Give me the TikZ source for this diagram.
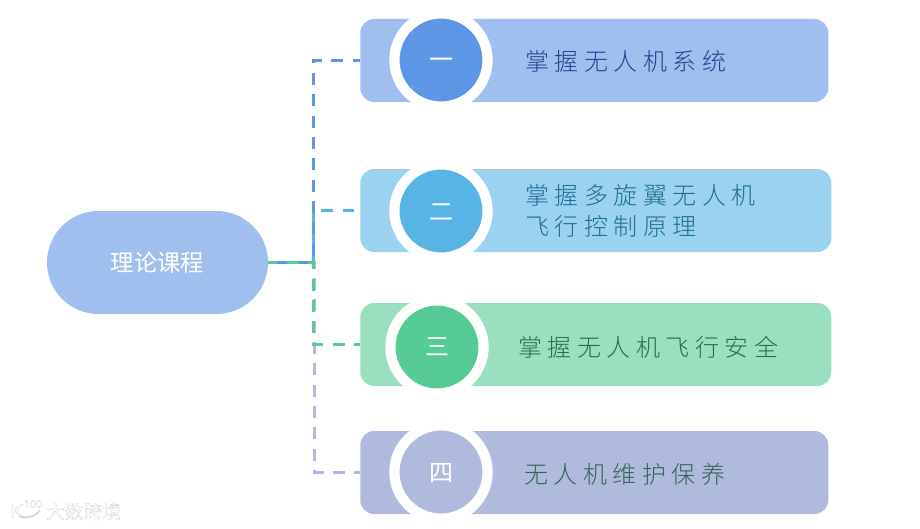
\documentclass[tikz,border=0pt]{standalone}
\usepackage{fontspec}
\setmainfont{Noto Sans CJK SC}
\newfontfamily\cjkwide[LetterSpace=23]{Noto Sans CJK SC Light}
\newfontfamily\cjkmark[FakeBold=0.5]{Noto Sans CJK SC}
\newfontfamily\latinmark[FakeBold=0.5]{Liberation Sans}
\usetikzlibrary{
calc,
positioning
}

\definecolor{boxblue}{HTML}{A0BFEE}
\definecolor{dotblue}{HTML}{5E96E6}
\definecolor{boxsky}{HTML}{9BD2EF}
\definecolor{dotsky}{HTML}{58B4E5}
\definecolor{boxgreen}{HTML}{9ADFBF}
\definecolor{dotgreen}{HTML}{56CB96}
\definecolor{boxgray}{HTML}{B0BADC}
\definecolor{textblue}{HTML}{1F4590}
\definecolor{textsky}{HTML}{1F6E94}
\definecolor{textgreen}{HTML}{25704B}
\definecolor{textgray}{HTML}{336558}
\definecolor{markshade}{HTML}{D0D0D0}

\tikzset{
topicbox/.style={rounded corners=10.5pt,minimum height=62.25pt,anchor=west,inner sep=0pt},
topicdot/.style={circle,draw=white,line width=7.65pt,minimum size=69.9pt,inner sep=0pt},
topicnum/.style={text=white,inner sep=0pt,font=\fontsize{18}{18}\selectfont},
topictext/.style={anchor=west,inner sep=0pt,align=left,
  font=\cjkwide\fontsize{18}{23.3}\selectfont},
link/.style={line width=2.25pt,dash pattern=on 9pt off 7pt},
markword/.style={text=white,inner sep=0pt}
}

\newcommand{\markedge}{\special{pdf:code 0.72 G}}

\begin{document}
\begin{tikzpicture}[x=0.75pt,y=-0.75pt]

\useasboundingbox (0,0) rectangle (920,528);

% Root
\node[fill=boxblue,rounded corners=38.6pt,minimum width=165.75pt,minimum height=77.25pt,
  text=white,font=\fontsize{17.5}{18}\selectfont,inner sep=0pt]
  (theory) at (157.5,262.5) {理论课程};

% Topic boxes
\node[topicbox,fill=boxblue,minimum width=351pt] (boxone) at (360,60.5) {};
\node[topicbox,fill=boxsky,minimum width=353.25pt] (boxtwo) at (360,210.5) {};
\node[topicbox,fill=boxgreen,minimum width=353.25pt] (boxthree) at (360,344.5) {};
\node[topicbox,fill=boxgray,minimum width=351pt] (boxfour) at (360,472.5) {};

% Numbered circles
\node[topicdot,fill=dotblue] (dotone) at (441,60) {};
\node[topicdot,fill=dotsky] (dottwo) at (441,211) {};
\node[topicdot,fill=dotgreen] (dotthree) at (437,347) {};
\node[topicdot,fill=boxgray] (dotfour) at (441,472) {};

% Numerals
\node[topicnum] (numone) at (441,63) {一};
\node[topicnum] (numtwo) at (441,212) {二};
\node[topicnum] (numthree) at (437,347) {三};
\node[topicnum] (numfour) at (441,473) {四};

% Topic texts
\node[topictext,text=textblue] (textone) at (525,61) {掌握无人机系统};
\node[topictext,text=textsky] (texttwo) at (525,211) {掌握多旋翼无人机\\飞行控制原理};
\node[topictext,text=textgreen] (textthree) at (518,347) {掌握无人机飞行安全};
\node[topictext,text=textgray] (textfour) at (524,474) {无人机维护保养};

% Connectors
\coordinate (trunk) at (313,262.5);
\coordinate (trunkgray) at (314,262.5);
\coordinate (endtwo) at (354,210.5);

\draw[link,boxgray,dash phase=2pt] (theory.east) -- (trunkgray) |- (boxfour.west);
\draw[link,dotsky,dash phase=1.1pt] (theory.east) -- (trunk) |- (endtwo);
\draw[link,dotblue,dash phase=9.2pt] (theory.east) -- (trunk) |- (boxone.west);
\draw[link,dotgreen,dash phase=2.25pt] (theory.east) -- (trunk) |- (boxthree.west);

% Watermark
\node[markword,font=\latinmark\fontsize{15}{15}\selectfont] (markk) at (17,511) {\markedge K};
\node[markword,font=\latinmark\fontsize{8}{8}\selectfont] (markhundred) at (33,504) {\markedge 100};
\node[markword,font=\cjkmark\fontsize{14}{14}\selectfont] (markname) at (83.5,511.5) {\markedge 大数跨境};
\coordinate (arcleft) at (19,516);
\coordinate (arcright) at (40,510);
\draw[markshade,line width=1pt] (arcleft) .. controls (26,519) and (35,517) .. (arcright);

\end{tikzpicture}
\end{document}
